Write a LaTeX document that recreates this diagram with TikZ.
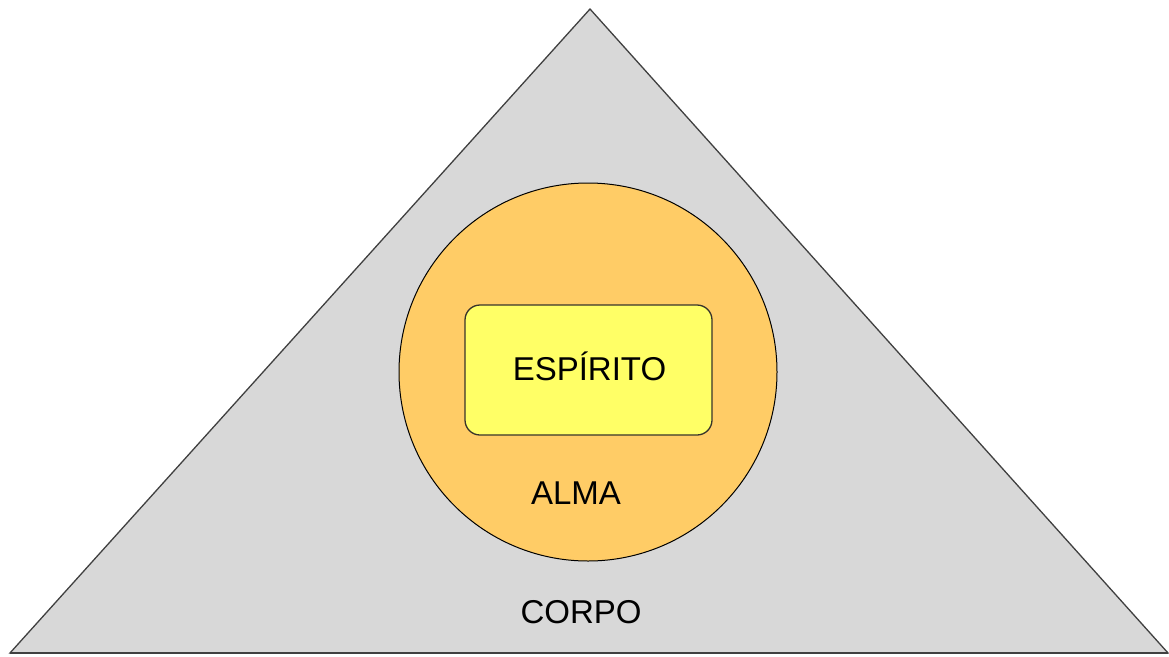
\documentclass[tikz,border=0pt]{standalone}
\usepackage{fontspec}
\setmainfont{Liberation Sans}
\definecolor{corpogray}{HTML}{D8D8D8}
\definecolor{almaorange}{HTML}{FFCC66}
\definecolor{espyellow}{HTML}{FFFF66}
\definecolor{edgegray}{HTML}{404040}
\begin{document}
\begin{tikzpicture}[x=1pt,y=-1pt,
  lbl/.style={font=\fontsize{33}{36}\selectfont, anchor=base, inner sep=0pt, text=black},
  corpo/.style={fill=corpogray, draw=edgegray, line width=1.3pt, line join=miter},
  alma/.style={circle, fill=almaorange, draw=black, line width=1pt, minimum size=378pt, inner sep=0pt},
  esp/.style={rounded corners=15pt, fill=espyellow, draw=black!80!olive, line width=1.3pt}]
\useasboundingbox (0,0) rectangle (1169,656);
\coordinate (apex) at (590,9);
\coordinate (bl) at (10,653);
\coordinate (br) at (1168,653);
\draw[corpo] (apex) -- (br) -- (bl) -- cycle;
\draw[edgegray, line width=2.2pt] (bl) -- (br);
\node[alma] (almacircle) at (588,372) {};
\draw[esp] (465,305) rectangle (712,435);
\node[lbl] (espirito) at (589.5,380) {ESPÍRITO};
\node[lbl] (alma) at (576,504) {ALMA};
\node[lbl] (corpo) at (581,623) {CORPO};
\end{tikzpicture}
\end{document}
